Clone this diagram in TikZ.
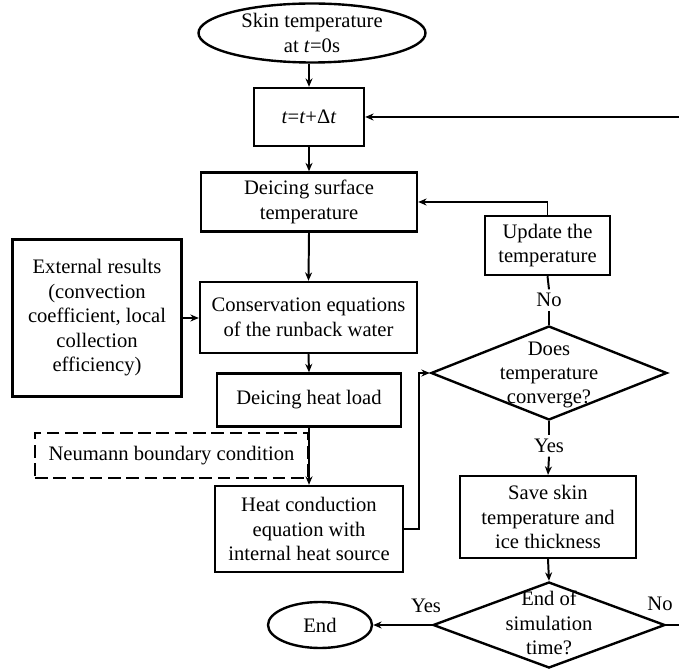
\documentclass[tikz,border=0pt]{standalone}
\usepackage{fontspec}
\setmainfont{Liberation Serif}
\usetikzlibrary{shapes.geometric,arrows.meta}
\begin{document}
\begin{tikzpicture}[x=0.25mm,y=-0.25mm,
  every node/.style={font=\fontsize{14.65}{17.4}\selectfont, align=center, inner sep=0pt},
  box/.style={draw, line width=1.7pt, rectangle},
  ell/.style={draw, line width=1.7pt, ellipse},
  dia/.style={draw, line width=1.7pt, diamond},
  dbox/.style={draw, line width=1.7pt, rectangle, dash pattern=on 9pt off 4pt},
  lbl/.style={inner sep=2.5pt},
  conn/.style={line width=1.4pt},
  arr/.style={conn, -{Stealth[length=6pt,width=5pt]}}
]
\useasboundingbox (0,0) rectangle (679,669);

\node[ell, minimum width=56.75mm, minimum height=14.75mm] (start) at (312,33) {Skin temperature\\at \textit{t}=0s};
\node[box, minimum width=27.5mm, minimum height=14.5mm] (step) at (309,117) {\textit{t}=\textit{t}+Δ\textit{t}};
\node[box, minimum width=54mm, minimum height=14.75mm] (surf) at (309,202) {Deicing surface\\temperature};
\node[box, minimum width=42.25mm, minimum height=39.25mm] (ext) at (97,318) {External results\\(convection\\coefficient, local\\collection\\efficiency)};
\node[box, minimum width=54.25mm, minimum height=17.75mm] (cons) at (308.5,317.5) {Conservation equations\\of the runback water};
\node[box, minimum width=46mm, minimum height=13.25mm] (load) at (309,400) {Deicing heat load};
\node[dbox, minimum width=68.25mm, minimum height=11.25mm] (neu) at (171.5,455.5) {Neumann boundary condition};
\node[box, minimum width=47mm, minimum height=21.5mm] (heat) at (309,529) {Heat conduction\\equation with\\internal heat source};
\node[box, minimum width=31.25mm, minimum height=14.75mm] (upd) at (547.5,245.5) {Update the\\temperature};
\node[dia, minimum width=59mm, minimum height=23.5mm] (conv) at (549,373) {};
\node (convt) at (549,375) {Does\\temperature\\converge?};
\node[box, minimum width=44mm, minimum height=20.5mm] (save) at (548,517) {Save skin\\temperature and\\ice thickness};
\node[dia, minimum width=58mm, minimum height=21.5mm] (endq) at (549,625) {};
\node (endqt) at (549,623) {End of\\simulation\\time?};
\node[ell, minimum width=26mm, minimum height=11.5mm] (endn) at (320,625) {End};

\node[lbl] (no1) at (549,300) {No};
\node[lbl] (yes1) at (549,446) {Yes};
\node[lbl] (yes2) at (426,606) {Yes};
\node[lbl] (no2) at (660,604) {No};
\coordinate (rt) at (684,625);

\draw[arr] (step.north |- start.south) -- (step.north);
\draw[arr] (step.south) -- (surf.north);
\draw[arr] (surf.south) -- (cons.north);
\draw[arr] (ext.east) -- (ext.east -| cons.west);
\draw[arr] (cons.south) -- (load.north);
\draw[arr] (load.south) -- (heat.north);
\draw[arr] (heat.east) -- ++(15,0) |- (conv.west);
\draw[conn] (conv.north) -- (no1.south);
\draw[conn] (no1.north) -- (upd.south);
\draw[arr] (upd.north) |- (surf.east);
\draw[conn] (conv.south) -- (yes1.north);
\draw[arr] (yes1.south) -- (save.north);
\draw[arr] (save.south) -- (endq.north);
\draw[arr] (endq.west) -- (endn.east);
\draw[arr] (endq.east) -- (rt) |- (step.east);
\end{tikzpicture}
\end{document}
